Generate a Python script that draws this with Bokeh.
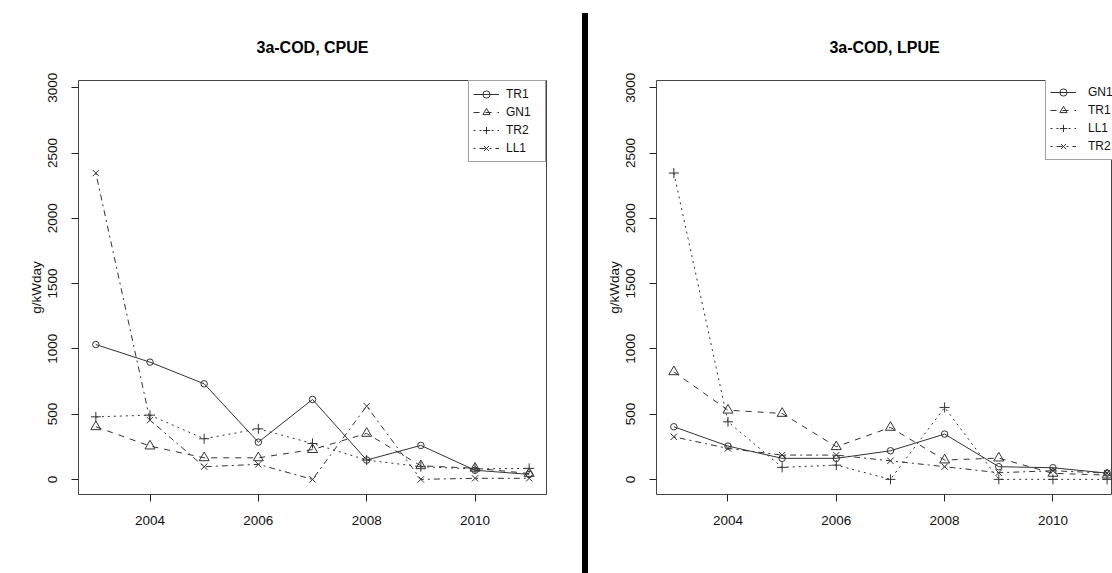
from bokeh.plotting import figure
from bokeh.models import Range1d, FixedTicker, Legend, LegendItem, Div
from bokeh.layouts import row
from bokeh.embed import file_html
from bokeh.resources import INLINE

# ---------------- data ----------------
years = [2003, 2004, 2005, 2006, 2007, 2008, 2009, 2010, 2011]
x_ticks = [2004, 2006, 2008, 2010]
y_ticks = [0, 500, 1000, 1500, 2000, 2500, 3000]
y_label = "g/kWday"

cpue_title = "3a-COD, CPUE"
cpue_names = ["TR1", "GN1", "TR2", "LL1"]
cpue_TR1 = [1033, 898, 732, 285, 612, 148, 260, 70, 38]
cpue_GN1 = [403, 255, 165, 165, 228, 352, 104, 85, 45]
cpue_TR2 = [479, 492, 311, 387, 275, 148, 97, 80, 84]
cpue_LL1 = [2347, 454, 97, 115, 0, 561, 0, 8, 8]

lpue_title = "3a-COD, LPUE"
lpue_names = ["GN1", "TR1", "LL1", "TR2"]
lpue_GN1 = [403, 255, 161, 161, 219, 347, 97, 89, 48]
lpue_TR1 = [824, 530, 505, 250, 398, 148, 163, 46, 33]
lpue_LL1 = [2347, 441, 92, 109, 0, 551, 0, 0, 0]
lpue_TR2 = [326, 237, 186, 186, 142, 97, 51, 66, 48]

# ---------------- styles ----------------
styles = [
    ("solid", "circle", 6.5),
    ("dashed", "triangle", 10),
    ("dotted", "cross", 10),
    ("dotdash", "x", 9),
]
FONT = "Liberation Sans"
H = 573
TOP, BOTTOM = 80, 79
FRAME_H = H - TOP - BOTTOM
LINE_COL = "#333333"
BOX_COL = "#444444"
LEG_H = 80


def make_panel(title, names, series, width, b_left, b_right, x_end,
               leg_loc, leg_label_w, leg_standoff, leg_glyph_w):
    p = figure(width=width, height=H, output_backend="svg", toolbar_location=None,
               x_range=Range1d(2002.68, x_end), y_range=Range1d(-116, 3056),
               min_border_left=b_left, min_border_right=b_right,
               min_border_top=TOP, min_border_bottom=BOTTOM)
    p.grid.visible = False
    p.outline_line_color = BOX_COL
    p.outline_line_width = 1
    p.background_fill_color = "white"
    p.border_fill_color = "white"

    p.title.text = title
    p.title.align = "center"
    p.title.text_font = FONT
    p.title.text_font_style = "bold"
    p.title.text_font_size = "16px"
    p.title.text_color = "#000000"
    p.title.standoff = 50

    for ax in (p.xaxis[0], p.yaxis[0]):
        ax.axis_line_color = None
        ax.major_tick_in = 0
        ax.major_tick_out = 7
        ax.major_tick_line_color = "#222222"
        ax.minor_tick_in = 0
        ax.minor_tick_out = 0
        ax.major_label_text_font = FONT
        ax.major_label_text_font_size = "13.5px"
        ax.major_label_text_color = "#111111"
    p.xaxis.ticker = FixedTicker(ticks=x_ticks)
    p.yaxis.ticker = FixedTicker(ticks=y_ticks)
    p.xaxis.major_label_standoff = 14
    p.yaxis.major_label_standoff = 14
    p.yaxis.major_label_orientation = "vertical"
    p.yaxis.axis_label = y_label
    p.yaxis.axis_label_text_font = FONT
    p.yaxis.axis_label_text_font_size = "13.5px"
    p.yaxis.axis_label_text_font_style = "normal"
    p.yaxis.axis_label_text_color = "#111111"
    p.yaxis.axis_label_standoff = 2

    items = []
    for name, vals, (dash, marker, size) in zip(names, series, styles):
        lr = p.line(years, vals, line_color=LINE_COL, line_width=1, line_dash=dash)
        sr = p.scatter(years, vals, marker=marker, size=size, line_color=LINE_COL,
                       fill_color=None, line_width=1)
        items.append(LegendItem(label=name, renderers=[lr, sr]))

    leg = Legend(items=items, location=leg_loc,
                 label_text_font=FONT, label_text_font_size="12px",
                 label_text_color="#111111",
                 glyph_width=leg_glyph_w, glyph_height=18, label_height=18,
                 label_width=leg_label_w, label_standoff=leg_standoff,
                 spacing=0, padding=4, margin=0,
                 border_line_color=BOX_COL, border_line_width=1,
                 background_fill_color="white", background_fill_alpha=1.0)
    p.add_layout(leg)
    return p


left = make_panel(cpue_title, cpue_names, [cpue_TR1, cpue_GN1, cpue_TR2, cpue_LL1],
                  582, 78, 36, 2011.32, "top_right", 35, 7, 26)

divider = Div(text="", width=6, height=H - 13, margin=(13, 0, 0, 0),
              styles={"background-color": "black"})

right = make_panel(lpue_title, lpue_names, [lpue_GN1, lpue_TR1, lpue_LL1, lpue_TR2],
                   524, 68, 0, 2011.10, (389, FRAME_H - LEG_H), 35, 12, 26)

layout = row(left, divider, right, spacing=0)
open("out.html", "w").write(file_html(layout, INLINE))
